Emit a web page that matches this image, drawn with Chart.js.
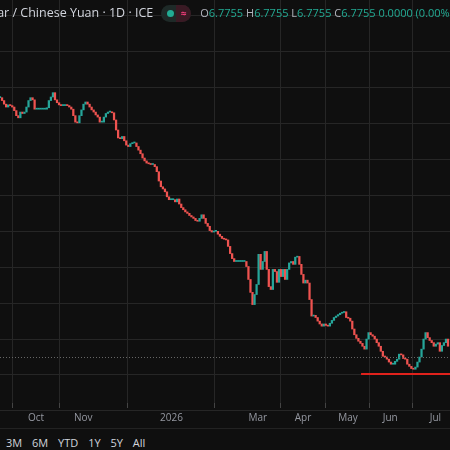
<!DOCTYPE html>
<html><head><meta charset="utf-8">
<script src="https://cdn.jsdelivr.net/npm/chart.js@4"></script>
<style>
html,body{margin:0;padding:0;background:#0f0f0f;width:450px;height:450px;overflow:hidden;font-family:"Open Sans",sans-serif}
#wrap{position:absolute;left:0;top:0;width:450px;height:428px}
#hdr{position:absolute;left:-6px;top:4px;white-space:nowrap;font-size:12.5px;color:#d1d4dc}
#hdr .o{font-size:11px;color:#b2b5be;margin-left:4px}
#hdr .g{color:#22ab94}
.badge{display:inline-block;vertical-align:middle;width:30px;height:17px;border-radius:9px;background:#1e2a28;margin:0 5px 0 8px;position:relative}
.badge i{position:absolute;left:6px;top:5px;width:7px;height:7px;border-radius:50%;background:#22ab94}
.badge b{position:absolute;left:15px;top:0px;width:15px;height:17px;border-radius:0 9px 9px 0;background:#3a1a24;color:#f23d7a;font-size:10px;line-height:17px;text-align:center}
#btns{position:absolute;left:6px;top:435px;font-size:11px;color:#d1d4dc;word-spacing:7px}
#sep{position:absolute;left:0;top:428px;width:450px;height:1px;background:#222}
</style></head>
<body>
<div id="wrap"><canvas id="c" width="450" height="428"></canvas></div>
<div id="hdr">lar / Chinese Yuan · 1D · ICE<span class="badge"><i></i><b>≈</b></span><span class="o">O<span class="g">6.7755</span> H<span class="g">6.7755</span> L<span class="g">6.7755</span> C<span class="g">6.7755</span> <span class="g">0.0000 (0.00%)</span></span></div>
<div id="sep"></div>
<div id="btns">3M 6M YTD 1Y 5Y All</div>
<script>
const closes=[7.136,7.132,7.127,7.123,7.126,7.125,7.123,7.118,7.111,7.108,7.116,7.114,7.116,7.123,7.132,7.136,7.133,7.120,7.120,7.120,7.120,7.120,7.120,7.122,7.132,7.137,7.143,7.133,7.129,7.126,7.125,7.125,7.126,7.125,7.123,7.120,7.111,7.102,7.101,7.111,7.119,7.127,7.130,7.127,7.123,7.119,7.116,7.112,7.109,7.102,7.102,7.109,7.114,7.116,7.116,7.115,7.105,7.091,7.080,7.079,7.082,7.076,7.070,7.068,7.072,7.073,7.073,7.068,7.063,7.058,7.052,7.048,7.045,7.044,7.043,7.043,7.040,7.033,7.020,7.012,7.009,7.005,6.998,6.994,6.994,6.994,6.991,6.995,6.988,6.983,6.980,6.977,6.975,6.972,6.970,6.968,6.965,6.964,6.968,6.973,6.968,6.961,6.957,6.951,6.949,6.950,6.950,6.946,6.943,6.940,6.939,6.938,6.929,6.919,6.912,6.908,6.908,6.908,6.908,6.908,6.908,6.901,6.883,6.865,6.848,6.862,6.876,6.918,6.897,6.908,6.922,6.897,6.873,6.869,6.897,6.894,6.879,6.897,6.887,6.897,6.883,6.897,6.906,6.908,6.904,6.914,6.915,6.904,6.890,6.878,6.882,6.878,6.855,6.832,6.833,6.830,6.825,6.821,6.818,6.821,6.819,6.818,6.822,6.826,6.830,6.832,6.834,6.836,6.837,6.838,6.830,6.829,6.825,6.814,6.806,6.801,6.797,6.794,6.790,6.786,6.800,6.809,6.806,6.804,6.800,6.795,6.790,6.783,6.776,6.775,6.772,6.768,6.765,6.765,6.769,6.772,6.779,6.778,6.773,6.772,6.765,6.762,6.759,6.758,6.761,6.768,6.775,6.786,6.800,6.809,6.802,6.798,6.795,6.790,6.793,6.795,6.783,6.791,6.795,6.800,6.790];
const monthLabels=["Oct","Nov","2026","Mar","Apr","May","Jun","Jul"];
const monthIdx=[17.7,40.9,84.2,126.6,148.8,170.9,191.6,213.8];
const gridPrices=[6.70,6.75,6.80,6.85,6.90,6.95,7.00,7.05,7.10,7.15,7.20,7.25];
const lastPrice=6.7755;
const supportPrice=6.7514, supportFrom=177.3;

const opens=closes.map((c,i)=>i?closes[i-1]:c);
const bars=closes.map((c,i)=>({x:i,y:[opens[i],c]}));
const up='#26a69a', dn='#ef5350';
const n=closes.length;
const xMax=(n-1)*450/448;

const lines={id:'lines',afterDatasetsDraw(ch){
  const {ctx,chartArea:a,scales:{x,y}}=ch;
  ctx.save();
  let yy=Math.round(y.getPixelForValue(lastPrice))+0.5;
  ctx.strokeStyle='#666';ctx.lineWidth=1;ctx.setLineDash([1,2]);
  ctx.beginPath();ctx.moveTo(a.left,yy);ctx.lineTo(a.right,yy);ctx.stroke();
  ctx.setLineDash([]);
  yy=y.getPixelForValue(supportPrice);
  ctx.strokeStyle='#e0221c';ctx.lineWidth=2.2;
  ctx.beginPath();ctx.moveTo(x.getPixelForValue(supportFrom),yy);ctx.lineTo(a.right,yy);ctx.stroke();
  ctx.restore();
}};

new Chart(document.getElementById('c'),{
  type:'bar',
  data:{datasets:[{data:bars,barThickness:1.6,minBarLength:1,
    backgroundColor:c=>{const d=c.raw;return d&&d.y[1]<d.y[0]?dn:up;}}]},
  options:{animation:false,responsive:false,parsing:{xAxisKey:'x',yAxisKey:'y'},
    layout:{padding:0},
    plugins:{legend:{display:false},tooltip:{enabled:false}},
    scales:{
      x:{type:'linear',min:0,max:xMax,offset:false,
        afterBuildTicks:s=>{s.ticks=monthIdx.map(v=>({value:v}));},
        ticks:{color:'#9598a1',font:{family:'Open Sans',size:10},padding:4,maxRotation:0,autoSkip:false,
          callback:(v,i)=>monthLabels[i]},
        grid:{color:'#262626',tickLength:5,tickColor:'#444'},border:{display:false}},
      y:{min:6.711,max:7.272,display:true,
        afterBuildTicks:s=>{s.ticks=gridPrices.map(v=>({value:v}));},
        ticks:{display:false},grid:{color:'#262626',drawTicks:false},border:{display:false},
        afterFit:s=>{s.width=0;}}
    }},
  plugins:[lines]
});
</script>
</body></html>
